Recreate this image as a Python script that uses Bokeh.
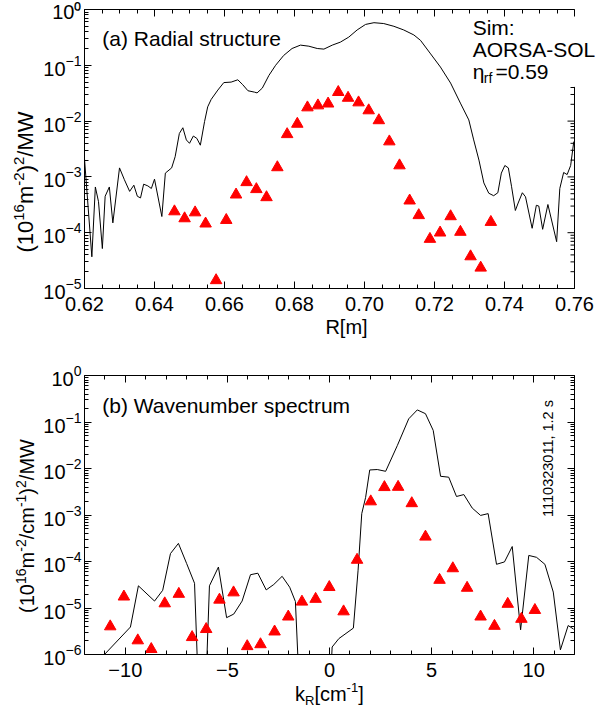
from bokeh.plotting import figure
from bokeh.layouts import column, row
from bokeh.models import (Range1d, LinearAxis, LogAxis, FixedTicker, SingleIntervalTicker,
                          NumeralTickFormatter, BasicTickFormatter, LogTickFormatter,
                          CustomJSTickFormatter, Label, Div)
from bokeh.embed import file_html
from bokeh.resources import INLINE

FONT = "Liberation Sans"

# ---------------- Panel (a): radial structure ----------------
r_sim = [0.6200, 0.6221, 0.6231, 0.6240, 0.6251, 0.6259, 0.6271, 0.6281, 0.6300, 0.6314,
         0.6329, 0.6341, 0.6351, 0.6360, 0.6369, 0.6381, 0.6391, 0.6400, 0.6421, 0.6431,
         0.6449, 0.6459, 0.6471, 0.6481, 0.6491, 0.6500, 0.6511, 0.6521, 0.6531, 0.6543,
         0.6552, 0.6562, 0.6581, 0.6598, 0.6619, 0.6638, 0.6652, 0.6667, 0.6686, 0.6693,
         0.6708, 0.6727, 0.6746, 0.6769, 0.6793, 0.6817, 0.6841, 0.6865, 0.6884, 0.6908,
         0.6931, 0.6955, 0.6979, 0.7003, 0.7027, 0.7055, 0.7084, 0.7112, 0.7141, 0.7160,
         0.7189, 0.7217, 0.7246, 0.7274, 0.7298, 0.7312, 0.7327, 0.7341, 0.7355, 0.7369,
         0.7381, 0.7391, 0.7401, 0.7411, 0.7420, 0.7431, 0.7439, 0.7451, 0.7460, 0.7479,
         0.7491, 0.7498, 0.7509, 0.7524, 0.7549, 0.7558, 0.7569, 0.7579, 0.7589, 0.7598]
p_sim = [2.1e-3, 3.7e-5, 6.6e-4, 3.6e-4, 5.2e-5, 4.5e-4, 6.6e-4, 1.5e-4, 1.45e-3, 8.9e-4,
         5.5e-4, 7.1e-4, 4.5e-4, 4.2e-4, 7.4e-4, 6.9e-4, 6.2e-4, 9.1e-4, 1.95e-4, 1.17e-3,
         1.45e-3, 2.3e-3, 6.0e-3, 7.6e-3, 4.6e-3, 4.0e-3, 5.4e-3, 4.9e-3, 3.7e-3, 9.8e-3,
         1.8e-2, 2.45e-2, 3.6e-2, 4.9e-2, 5.0e-2, 5.5e-2, 4.5e-2, 3.5e-2, 3.3e-2, 3.2e-2,
         3.9e-2, 6.6e-2, 0.10, 0.15, 0.20, 0.23, 0.22, 0.20, 0.195, 0.23,
         0.26, 0.32, 0.43, 0.54, 0.58, 0.56, 0.50, 0.43, 0.35, 0.28,
         0.16, 0.093, 0.048, 0.021, 0.0105, 4.6e-3, 2.0e-3, 7.8e-4, 5.1e-4, 4.6e-4,
         5.2e-4, 1.17e-3, 1.6e-3, 1.45e-3, 6.8e-4, 2.5e-4, 3.4e-4, 5.2e-4, 4.4e-4, 1.2e-4,
         3.1e-4, 3.0e-4, 1.15e-4, 3.2e-4, 6.9e-5, 6.2e-4, 1.2e-3, 1.1e-3, 1.6e-3, 4.3e-3]

r_exp = [0.6457, 0.6486, 0.6516, 0.6546, 0.6576, 0.6605, 0.6633, 0.6663, 0.6691, 0.6720,
         0.6751, 0.6779, 0.6808, 0.6837, 0.6867, 0.6896, 0.6925, 0.6953, 0.6983, 0.7012,
         0.7041, 0.7071, 0.7100, 0.7129, 0.7155, 0.7187, 0.7216, 0.7246, 0.7274, 0.7303,
         0.7332, 0.7361]
p_exp = [2.4e-4, 1.8e-4, 2.3e-4, 1.45e-4, 1.4e-5, 1.68e-4, 4.8e-4, 8.0e-4, 6.0e-4, 4.3e-4,
         1.48e-3, 5.8e-3, 8.9e-3, 1.75e-2, 1.9e-2, 2.05e-2, 3.3e-2, 2.6e-2, 2.15e-2, 1.55e-2,
         1.03e-2, 4.3e-3, 1.6e-3, 3.75e-4, 2.05e-4, 7.7e-5, 1.0e-4, 1.96e-4, 1.03e-4, 3.75e-5,
         2.35e-5, 1.55e-4]

# ---------------- Panel (b): wavenumber spectrum ----------------
k_sim = [-12.00, -11.50, -9.75, -9.36, -8.57, -8.17, -7.79, -7.40, -7.00, -6.61,
         -6.32, -6.16, -5.88, -5.44, -5.04, -4.69, -4.28, -3.87, -3.51, -3.10,
         -2.73, -2.32, -1.95, -1.67, -1.35, -0.11, 0.13, 0.46, 1.17, 1.40,
         1.58, 1.77, 1.97, 2.34, 2.75, 3.32, 3.88, 4.30, 4.70, 5.08,
         5.44, 5.84, 6.22, 6.58, 6.99, 7.40, 7.77, 8.18, 8.57, 8.95,
         9.36, 9.76, 10.14, 10.55, 10.96, 11.31, 11.69, 11.96]
s_sim = [8e-7, 6e-7, 3.9e-6, 3.0e-5, 1.41e-5, 2.4e-5, 1.48e-4, 2.45e-4, 9.1e-5, 3.4e-5,
         1e-8, 1e-8, 3.0e-5, 7.6e-5, 6.2e-6, 7.4e-6, 1.41e-5, 5.2e-5, 5.6e-5, 2.45e-5,
         3.2e-5, 4.8e-5, 2.8e-5, 1.38e-5, 1e-8, 1e-8, 1.45e-6, 2.2e-6, 3.7e-6, 6.5e-5,
         1.07e-3, 2.4e-3, 9.3e-3, 9.5e-3, 8.7e-3, 3.1e-2, 0.117, 0.182, 0.151, 0.066,
         6.8e-3, 6.5e-3, 2.5e-3, 2.75e-3, 1.41e-3, 9.8e-4, 1.07e-3, 8.7e-5, 9.8e-5, 2.1e-4,
         3.4e-6, 1.35e-4, 1.23e-4, 8.7e-5, 2.2e-5, 1.26e-6, 4.2e-6, 3.5e-6]

k_exp = [-10.74, -10.07, -9.39, -8.73, -8.07, -7.38, -6.73, -6.04, -5.39, -4.70,
         -4.03, -3.38, -2.69, -2.02, -1.35, -0.68, -0.01, 0.69, 1.35, 2.02,
         2.69, 3.36, 4.03, 4.70, 5.39, 6.04, 6.74, 7.40, 8.08, 8.73,
         9.40, 10.06]
s_exp = [4.0e-6, 1.75e-5, 2.0e-6, 1.3e-6, 1.25e-5, 2.0e-5, 2.35e-6, 3.5e-6, 1.5e-5, 2.15e-5,
         1.5e-6, 1.65e-6, 3.1e-6, 6.5e-6, 1.36e-5, 1.56e-5, 2.8e-5, 8.4e-6, 1.08e-4, 1.95e-3,
         3.95e-3, 4.0e-3, 1.78e-3, 3.4e-4, 4.0e-5, 7.1e-5, 2.7e-5, 6.5e-6, 4.1e-6, 1.22e-5,
         5.8e-6, 9.0e-6]

y_decades_a = [10.0 ** e for e in range(-5, 1)]
y_decades_b = [10.0 ** e for e in range(-6, 1)]

R_MIN, R_MAX = 0.62, 0.76
FRAME_W = 490                      # axis box width in pixels
R_PER_PX = (R_MAX - R_MIN) / FRAME_W
EXTRA_RIGHT_PX = 34                # room on the right for the "AORSA-SOL" block
HIDDEN_ABOVE = 0.041               # the text block hides the right frame above this level
YLAB_W = 40                        # width of the strip holding the rotated y titles


def minor_ticks(lo, hi):
    return [m * 10.0 ** e for e in range(lo, hi) for m in range(2, 10)]


def style_axis(ax, show_labels=True):
    ax.axis_line_color = "#000000"
    ax.axis_line_width = 1
    ax.major_tick_line_color = "#000000"
    ax.minor_tick_line_color = "#000000"
    ax.major_tick_in = 7
    ax.major_tick_out = 0
    ax.minor_tick_in = 4
    ax.minor_tick_out = 0
    ax.major_label_text_font = FONT
    ax.major_label_text_color = "#000000"
    ax.axis_label_text_font = FONT
    ax.axis_label_text_font_size = "20px"
    ax.axis_label_text_font_style = "normal"
    ax.axis_label_text_color = "#000000"
    if show_labels:
        ax.major_label_text_font_size = "20px"
    else:
        ax.major_label_text_font_size = "0px"
        ax.formatter = CustomJSTickFormatter(code="return ''")
        ax.major_label_standoff = 0


def text_label(x, y, text, size="21px", **kw):
    return Label(x=x, y=y, text=text, text_font=FONT, text_font_size=size,
                 text_color="#000000", text_baseline="alphabetic", **kw)


def sup(text, size, raise_px):
    return ("<sup style=\"font-size:{}px; vertical-align:{}px; line-height:0;\">{}</sup>"
            .format(size, raise_px, text))


def y_title(parts, height, center_y, font_px, sup_px, raise_px, left_px):
    html = "".join(p if isinstance(p, str) else sup(p[0], sup_px, raise_px) for p in parts)
    inner = ("<div style=\"position:relative; width:{w}px; height:{h}px;\">"
             "<div style=\"position:absolute; left:{lx}px; top:{cy}px; "
             "transform:translate(-50%, -50%) rotate(-90deg); white-space:nowrap; "
             "font-family:'Liberation Sans', Arial, sans-serif; font-size:{fs}px; "
             "line-height:{lh}px; color:#000;\">{t}</div></div>").format(
                 w=YLAB_W, h=height, lx=left_px, cy=center_y, fs=font_px,
                 lh=font_px + 4, t=html)
    return Div(text=inner, width=YLAB_W, height=height, margin=(0, 0, 0, 0))


# ---------- figure (a) ----------
pa = figure(frame_width=FRAME_W + EXTRA_RIGHT_PX, frame_height=279,
            x_range=Range1d(R_MIN, R_MAX + EXTRA_RIGHT_PX * R_PER_PX),
            y_range=Range1d(1e-5, 1.0), y_axis_type="log",
            output_backend="svg", toolbar_location=None,
            min_border_left=84 - YLAB_W, min_border_right=0, min_border_top=9,
            min_border_bottom=62,
            background_fill_color="white", border_fill_color="white")
pa.outline_line_color = None
pa.xgrid.visible = False
pa.ygrid.visible = False

xa = pa.xaxis[0]
xa.ticker = SingleIntervalTicker(interval=0.02, num_minor_ticks=4)
xa.formatter = NumeralTickFormatter(format="0.00")
xa.bounds = (R_MIN, R_MAX)
style_axis(xa)
xa.major_label_standoff = 8
xa.axis_label = "R[m]"
xa.axis_label_standoff = 2
ya = pa.yaxis[0]
ya.ticker = FixedTicker(ticks=y_decades_a, minor_ticks=minor_ticks(-6, 1))
ya.formatter = LogTickFormatter()
style_axis(ya)
ya.major_label_standoff = 3
# the top-most label sits at the page edge: keep its exponent inside the text box
ya.major_label_overrides = {1: "10⁰"}

top_a = LinearAxis(ticker=SingleIntervalTicker(interval=0.02, num_minor_ticks=4),
                   bounds=(R_MIN, R_MAX))
style_axis(top_a, show_labels=False)
pa.add_layout(top_a, "above")

# right frame edge of panel (a) with inward ticks, below the text block
ra_major = [v for v in y_decades_a if v <= HIDDEN_ABOVE]
ra_minor = [v for v in minor_ticks(-5, 0) if v <= HIDDEN_ABOVE]
pa.segment(x0=[R_MAX], y0=[y_decades_a[0]], x1=[R_MAX], y1=[HIDDEN_ABOVE],
           line_color="#000000", line_width=1)
pa.segment(x0=[R_MAX - 7 * R_PER_PX] * len(ra_major), y0=ra_major,
           x1=[R_MAX] * len(ra_major), y1=ra_major, line_color="#000000", line_width=1)
pa.segment(x0=[R_MAX - 4 * R_PER_PX] * len(ra_minor), y0=ra_minor,
           x1=[R_MAX] * len(ra_minor), y1=ra_minor, line_color="#000000", line_width=1)

pa.line(r_sim, p_sim, line_color="#000000", line_width=1)
pa.scatter(r_exp, p_exp, marker="triangle", size=11.5, fill_color="#ff0000",
           line_color="#ff0000")

pa.add_layout(text_label(0.6251, 0.30, "(a) Radial structure"))
pa.add_layout(text_label(0.7309, 0.48, "Sim:"))
pa.add_layout(text_label(0.7309, 0.195, "AORSA-SOL"))
pa.add_layout(text_label(0.7309, 0.076, "η"))
pa.add_layout(text_label(0.7341, 0.059, "rf", size="14px"))
pa.add_layout(text_label(0.7374, 0.076, "=0.59"))

# ---------- figure (b) ----------
pb = figure(frame_width=FRAME_W, frame_height=279, x_range=Range1d(-12, 12),
            y_range=Range1d(1e-6, 1.0), y_axis_type="log",
            output_backend="svg", toolbar_location=None,
            min_border_left=84 - YLAB_W, min_border_right=34, min_border_top=25,
            min_border_bottom=31,
            background_fill_color="white", border_fill_color="white")
pb.outline_line_color = None
pb.xgrid.visible = False
pb.ygrid.visible = False

xb = pb.xaxis[0]
xb.ticker = SingleIntervalTicker(interval=5, num_minor_ticks=5)
xb.formatter = BasicTickFormatter()
style_axis(xb)
xb.major_label_standoff = 8
yb = pb.yaxis[0]
yb.ticker = FixedTicker(ticks=y_decades_b, minor_ticks=minor_ticks(-7, 1))
yb.formatter = LogTickFormatter()
style_axis(yb)
yb.major_label_standoff = 3

top_b = LinearAxis(ticker=SingleIntervalTicker(interval=5, num_minor_ticks=5))
style_axis(top_b, show_labels=False)
pb.add_layout(top_b, "above")
right_b = LogAxis(ticker=FixedTicker(ticks=y_decades_b, minor_ticks=minor_ticks(-7, 1)))
style_axis(right_b, show_labels=False)
pb.add_layout(right_b, "right")

pb.line(k_sim, s_sim, line_color="#000000", line_width=1)
pb.scatter(k_exp, s_exp, marker="triangle", size=11.5, fill_color="#ff0000",
           line_color="#ff0000")

pb.add_layout(text_label(-11.13, 0.225, "(b) Wavenumber spectrum"))
pb.add_layout(Label(x=10.68, y=0.0164, text="1110323011, 1.2 s", text_font=FONT,
                    text_font_size="14.5px", text_color="#000000", angle=1.5708,
                    text_align="center", text_baseline="middle"))

# rotated y titles (real HTML text with superscripts); tuples mark superscripts
ytitle_a = y_title(["(10", ("16",), "m", ("-2",), ")", ("2",), "/MW"],
                   350, 182, 22, 15, 9, 26)
ytitle_b = y_title(["(10", ("16",), "m", ("-2",), "/cm", ("-1",), ")", ("2",), "/MW"],
                   335, 176, 20, 14, 8, 27)

# x-axis title of panel (b): k_R[cm^-1] as real HTML text
xlabel_b = Div(
    text=("<div style=\"position:relative; top:-2px; padding-left:295px; "
          "font-family:'Liberation Sans', Arial, sans-serif; "
          "font-size:20px; line-height:23px; color:#000; white-space:nowrap;\">"
          "k<sub style=\"font-size:13px; vertical-align:-4px; line-height:0;\">R</sub>"
          "[cm<sup style=\"font-size:13px; vertical-align:9px; line-height:0;\">-1</sup>]"
          "</div>"),
    width=608, height=23, margin=(0, 0, 0, 0))

layout = column(row(ytitle_a, pa, spacing=0), row(ytitle_b, pb, spacing=0), xlabel_b,
                spacing=0)
open("out.html", "w").write(file_html(layout, INLINE))
